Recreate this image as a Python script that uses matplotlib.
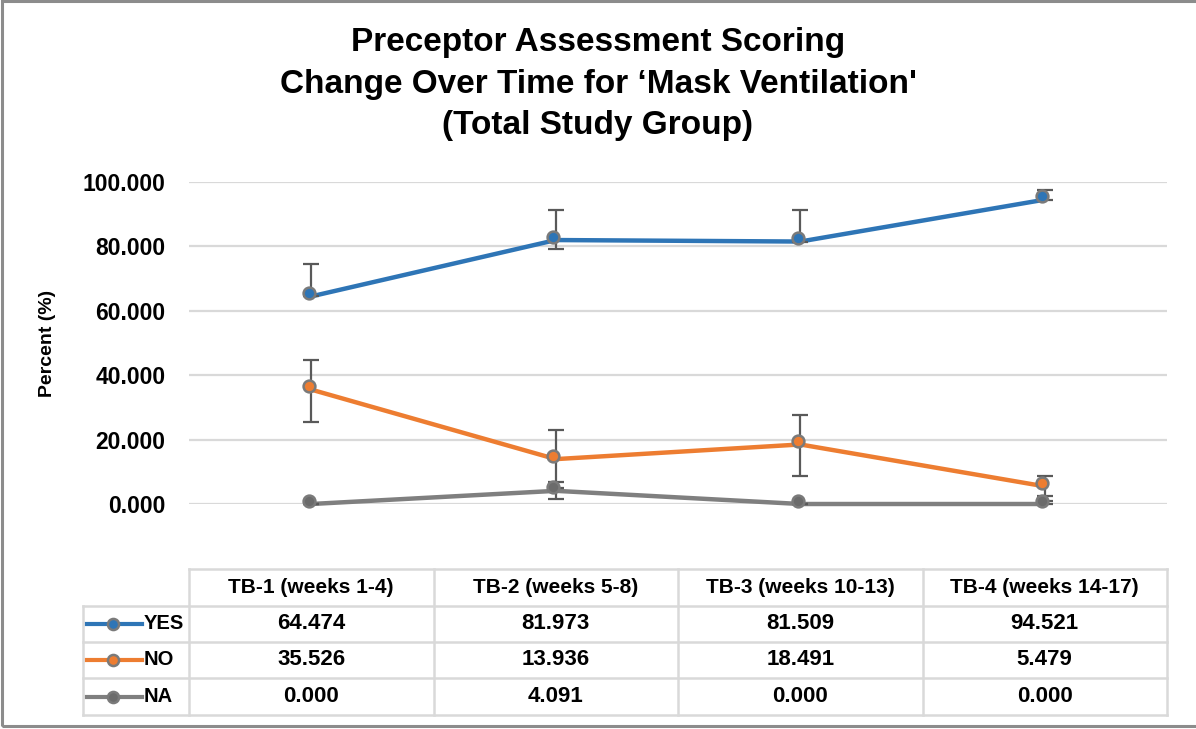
import numpy as np
import matplotlib
matplotlib.use("Agg")
import matplotlib.pyplot as plt
from matplotlib import transforms
from matplotlib.lines import Line2D
from matplotlib.patches import Rectangle

plt.rcParams['font.family'] = ['Liberation Sans', 'DejaVu Sans']
plt.rcParams['font.weight'] = 'bold'

# time blocks and percentages per answer
periods = ['TB-1 (weeks 1-4)', 'TB-2 (weeks 5-8)', 'TB-3 (weeks 10-13)', 'TB-4 (weeks 14-17)']
yes = [64.474, 81.973, 81.509, 94.521]
no = [35.526, 13.936, 18.491, 5.479]
na = [0.000, 4.091, 0.000, 0.000]

# error bar bounds
yes_lo = [64.474, 79.3, 81.509, 94.521]
yes_hi = [74.5, 91.4, 91.2, 97.6]
no_lo = [25.4, 5.0, 8.7, 2.5]
no_hi = [44.7, 23.0, 27.6, 8.8]
na_lo = [0.0, 1.5, 0.0, 0.0]
na_hi = [0.0, 6.9, 0.0, 0.9]

series = [
    ('YES', yes, yes_lo, yes_hi, '#2e75b6', '#2e75b6'),
    ('NO', no, no_lo, no_hi, '#ed7d31', '#ed7d31'),
    ('NA', na, na_lo, na_hi, '#7f7f7f', '#6b6b6b'),
]

W, H = 1196, 729
fig = plt.figure(figsize=(W / 100, H / 100), dpi=100)

# plot area in pixel terms
left, right, top, bottom = 189, 1167, 182, 504
ax = fig.add_axes([left / W, 1 - bottom / H, (right - left) / W, (bottom - top) / H])

x = np.arange(len(periods))
marker_tr = transforms.offset_copy(ax.transData, fig=fig, x=-2.5, y=3.5, units='dots')

for name, vals, lo, hi, col, face in series:
    vals = np.array(vals)
    yerr = [np.clip(vals - np.array(lo), 0, None), np.clip(np.array(hi) - vals, 0, None)]
    ax.plot(x, vals, color=col, lw=3.2, solid_capstyle='butt', zorder=3, clip_on=False)
    ax.errorbar(x, vals, yerr=yerr, fmt='none', ecolor='#595959', elinewidth=1.6,
                capsize=6, capthick=1.6, zorder=4, clip_on=False)
    ax.plot(x, vals, ls='none', marker='o', ms=8.5, mfc=face, mec='#7a7a7a', mew=1.8,
            transform=marker_tr, zorder=5, clip_on=False)

ax.set_xlim(-0.5, len(periods) - 0.5)
ax.set_ylim(0, 100)
ax.set_yticks(np.arange(0, 101, 20))
ax.set_yticklabels(['{:.3f}'.format(v) for v in np.arange(0, 101, 20)], fontsize=16.5, fontweight='bold')
ax.set_xticks([])
ax.tick_params(axis='y', length=0, pad=17)
ax.grid(axis='y', color='#d9d9d9', lw=1.6)
ax.set_axisbelow(True)
for s in ax.spines.values():
    s.set_visible(False)

fig.text(48 / W, 1 - 343 / H, 'Percent (%)', rotation=90, ha='center', va='center',
         fontsize=14, fontweight='bold')

fig.text(0.5, 1 - 84 / H, 'Preceptor Assessment Scoring\nChange Over Time for \u2018Mask Ventilation\'\n(Total Study Group)',
         ha='center', va='center', fontsize=24, fontweight='bold', linespacing=1.42,
         family=['Liberation Sans Narrow', 'Liberation Sans', 'DejaVu Sans'])

# data table underneath the plot
tab = fig.add_axes([0, 0, 1, 1], facecolor='none')
tab.set_xlim(0, W)
tab.set_ylim(H, 0)
tab.axis('off')
tr = transforms.blended_transform_factory(ax.transData, tab.transData)

grid_col = '#d9d9d9'
row_y = [569, 605.5, 641.7, 678, 715]
leg_left = 83
x_left = ax.transData.transform((-0.5, 0))[0]
x_right = ax.transData.transform((len(periods) - 0.5, 0))[0]
for i, y in enumerate(row_y):
    x0 = x_left if i == 0 else leg_left
    tab.plot([x0, x_right], [y, y], color=grid_col, lw=1.8)
for k in range(len(periods) + 1):
    tab.plot([k - 0.5, k - 0.5], [row_y[0], row_y[-1]], color=grid_col, lw=1.8, transform=tr)
tab.plot([leg_left, leg_left], [row_y[1], row_y[-1]], color=grid_col, lw=1.8)

for k, p in enumerate(periods):
    tab.text(k, (row_y[0] + row_y[1]) / 2, p, ha='center', va='center', fontsize=15,
             fontweight='bold', transform=tr)

for r, (name, vals, lo, hi, col, face) in enumerate(series):
    yc = (row_y[r + 1] + row_y[r + 2]) / 2
    for k, v in enumerate(vals):
        tab.text(k, yc, '{:.3f}'.format(v), ha='center', va='center', fontsize=16,
                 fontweight='bold', transform=tr)
    tab.add_line(Line2D([87, 142], [yc, yc], color=col, lw=3))
    tab.plot([113], [yc], marker='o', ms=8, mfc=face, mec='#7a7a7a', mew=1.8)
    tab.text(144, yc, name, ha='left', va='center', fontsize=14.5, fontweight='bold')

# chart frame
fig.add_artist(Rectangle((1.5 / W, 1 - 725.5 / H), 1.2, 725 / H, transform=fig.transFigure,
                         fill=False, ec='#8c8c8c', lw=2.2))

fig.savefig('out.png', dpi=100)
